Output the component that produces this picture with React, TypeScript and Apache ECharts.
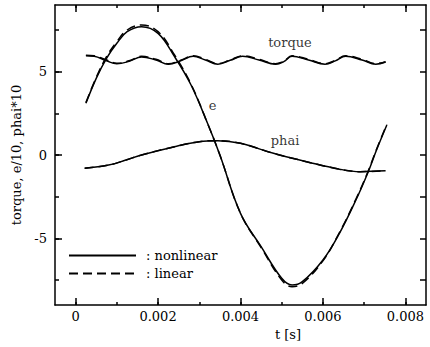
import React, { useEffect, useRef } from "react";
import * as echarts from "echarts";

// ---- data (t in seconds) ----
const eTime = [0.00025, 0.0005, 0.00075, 0.001, 0.00125, 0.0016, 0.002, 0.0024, 0.0028, 0.0032, 0.0035, 0.004, 0.0045, 0.005, 0.00525, 0.0055, 0.006, 0.0064, 0.0068, 0.0071, 0.0073, 0.00755];
const eNonlinear = [3.1, 4.6, 5.8, 6.7, 7.4, 7.7, 7.3, 5.9, 4.2, 1.9, 0.0, -3.5, -5.5, -7.4, -7.8, -7.6, -6.3, -4.7, -2.7, -1.0, 0.3, 1.8];
const eLinear = [3.15, 4.65, 5.9, 6.8, 7.5, 7.8, 7.4, 6.0, 4.25, 1.9, 0.0, -3.5, -5.55, -7.5, -7.9, -7.7, -6.35, -4.65, -2.65, -0.95, 0.35, 1.85];

const torqueTime = [0.00025, 0.00045, 0.00075, 0.001, 0.0013, 0.0016, 0.00195, 0.00225, 0.00255, 0.00285, 0.00315, 0.00345, 0.00375, 0.00405, 0.00445, 0.00485, 0.00505, 0.00525, 0.00565, 0.00605, 0.0063, 0.00655, 0.00695, 0.00728, 0.00752];
const torqueNonlinear = [5.95, 5.92, 5.65, 5.47, 5.62, 5.88, 5.7, 5.45, 5.65, 5.92, 5.7, 5.45, 5.68, 5.92, 5.7, 5.45, 5.6, 5.92, 5.7, 5.45, 5.65, 5.92, 5.7, 5.45, 5.58];
const torqueLinear = [5.98, 5.95, 5.7, 5.5, 5.65, 5.92, 5.74, 5.48, 5.68, 5.95, 5.74, 5.48, 5.7, 5.95, 5.74, 5.48, 5.63, 5.95, 5.74, 5.48, 5.68, 5.95, 5.74, 5.48, 5.6];

const phaiTime = [0.00022, 0.0008, 0.0012, 0.0016, 0.0024, 0.003, 0.00345, 0.004, 0.0048, 0.0056, 0.0064, 0.0069, 0.00752];
const phaiNonlinear = [-0.8, -0.6, -0.32, 0.0, 0.5, 0.8, 0.86, 0.7, 0.1, -0.4, -0.85, -1.0, -0.95];
const phaiLinear = [-0.8, -0.6, -0.32, 0.0, 0.5, 0.8, 0.86, 0.7, 0.1, -0.4, -0.85, -1.0, -0.95];

const curveNames = ["torque", "phai", "e"];
const curveLabelT = [0.0052, 0.00508, 0.00332];
const curveLabelV = [6.75, 0.9, 3.0];

const xMajorTicks = [0, 0.002, 0.004, 0.006, 0.008];
const xMinorTicks = [0.001, 0.003, 0.005, 0.007];
const yMajorTicks = [-5, 0, 5];
const yMinorTicks = [-7.5, -2.5, 2.5, 7.5];

const X_MIN = -0.0005;
const X_MAX = 0.0085;
const Y_MIN = -9;
const Y_MAX = 9;

const FONT = "DejaVu Serif";

// layout
const W = 430;
const H = 347;
const PL = 55;
const PR = 4;
const PT = 5;
const PB = 42;

function pairs(t: number[], v: number[]) {
  return t.map((x, i) => [x, v[i]]);
}

export default function App() {
  const ref = useRef<HTMLDivElement>(null);
  useEffect(() => {
    if (!ref.current) return;
    document.body.style.margin = "0";
    const chart = echarts.init(ref.current, undefined, { renderer: "svg" });

    const plotW = W - PL - PR;
    const plotH = H - PT - PB;
    const xPx = (t: number) => ((t - X_MIN) / (X_MAX - X_MIN)) * plotW;
    const yPx = (v: number) => ((Y_MAX - v) / (Y_MAX - Y_MIN)) * plotH;

    const allX = [...xMajorTicks, ...xMinorTicks].sort((a, b) => a - b);
    const allY = [...yMajorTicks, ...yMinorTicks].sort((a, b) => a - b);
    const xMin = allX[0];
    const xMax = allX[allX.length - 1];
    const xStepMajor = xMajorTicks[1] - xMajorTicks[0];
    const xStepAll = allX[1] - allX[0];
    const yMinAll = allY[0];
    const yMaxAll = allY[allY.length - 1];
    const yStepAll = allY[1] - allY[0];
    const yMinMaj = yMajorTicks[0];
    const yMaxMaj = yMajorTicks[yMajorTicks.length - 1];
    const yStepMaj = yMajorTicks[1] - yMajorTicks[0];

    const axisLine = () => ({ show: true, onZero: false, lineStyle: { color: "#000", width: 1.5 } });
    const tickAxis = (len: number) => ({
      axisLine: { show: false, onZero: false },
      axisTick: { show: true, inside: true, length: len, lineStyle: { color: "#000", width: 1.5 } },
      axisLabel: { show: false },
      splitLine: { show: false },
    });

    const solid = { color: "#000", width: 1.5, type: "solid" };
    const dashed = { color: "#000", width: 1.5, type: [9, 5] };

    const lineSeries = (name: string, data: number[][], ls: any) => ({
      type: "line",
      name,
      data,
      smooth: 0.4,
      symbol: "none",
      showSymbol: false,
      lineStyle: ls,
      itemStyle: { color: "#000" },
      silent: true,
    });

    chart.setOption({
      animation: false,
      backgroundColor: "#fff",
      grid: [
        { left: PL, right: PR, top: PT, bottom: PB },
        { left: PL + xPx(xMin), right: PR + (plotW - xPx(xMax)), top: PT, bottom: PB },
        { left: PL, right: PR, top: PT + yPx(yMaxAll), bottom: PB + (plotH - yPx(yMinAll)) },
        { left: PL, right: PR, top: PT + yPx(yMaxMaj), bottom: PB + (plotH - yPx(yMinMaj)) },
      ],
      xAxis: [
        {
          gridIndex: 0,
          type: "value",
          min: X_MIN,
          max: X_MAX,
          position: "bottom",
          splitLine: { show: false },
          axisLine: axisLine(),
          axisTick: { show: false },
          axisLabel: {
            show: true,
            customValues: xMajorTicks,
            margin: 5,
            color: "#000",
            fontFamily: FONT,
            fontSize: 13,
            formatter: (v: number) => (v === 0 ? "0" : v.toFixed(3)),
          },
        },
        {
          gridIndex: 0,
          type: "value",
          min: X_MIN,
          max: X_MAX,
          position: "top",
          splitLine: { show: false },
          axisLine: axisLine(),
          axisTick: { show: false },
          axisLabel: { show: false },
        },
        { gridIndex: 1, type: "value", min: xMin, max: xMax, interval: xStepAll, position: "bottom", ...tickAxis(3) },
        { gridIndex: 1, type: "value", min: xMin, max: xMax, interval: xStepMajor, position: "bottom", ...tickAxis(7) },
        { gridIndex: 1, type: "value", min: xMin, max: xMax, interval: xStepAll, position: "top", ...tickAxis(3) },
        { gridIndex: 1, type: "value", min: xMin, max: xMax, interval: xStepMajor, position: "top", ...tickAxis(7) },
        { gridIndex: 2, type: "value", min: 1, max: 2, show: false },
        { gridIndex: 3, type: "value", min: 1, max: 2, show: false },
      ],
      yAxis: [
        {
          gridIndex: 0,
          type: "value",
          min: Y_MIN,
          max: Y_MAX,
          position: "left",
          splitLine: { show: false },
          axisLine: axisLine(),
          axisTick: { show: false },
          axisLabel: { show: true, customValues: yMajorTicks, margin: 8, color: "#000", fontFamily: FONT, fontSize: 13 },
          name: "torque, e/10, phai*10",
          nameLocation: "middle",
          nameGap: 28,
          nameRotate: 90,
          nameTextStyle: { color: "#000", fontFamily: FONT, fontSize: 13 },
        },
        {
          gridIndex: 0,
          type: "value",
          min: Y_MIN,
          max: Y_MAX,
          position: "right",
          splitLine: { show: false },
          axisLine: axisLine(),
          axisTick: { show: false },
          axisLabel: { show: false },
        },
        { gridIndex: 1, type: "value", min: 1, max: 2, show: false },
        { gridIndex: 2, type: "value", min: yMinAll, max: yMaxAll, interval: yStepAll, position: "left", ...tickAxis(4) },
        { gridIndex: 2, type: "value", min: yMinAll, max: yMaxAll, interval: yStepAll, position: "right", ...tickAxis(6) },
        { gridIndex: 3, type: "value", min: yMinMaj, max: yMaxMaj, interval: yStepMaj, position: "left", ...tickAxis(7) },
      ],
      legend: {
        orient: "vertical",
        left: 63,
        top: 244,
        itemWidth: 67,
        itemHeight: 14,
        itemGap: 5,
        data: [{ name: "nonlinear" }, { name: "linear" }],
        formatter: ": {name}",
        itemStyle: { opacity: 0 },
        textStyle: { color: "#000", fontFamily: FONT, fontSize: 13, padding: [0, 0, 0, 5] },
        selectedMode: false,
      },
      graphic: [
        {
          type: "text",
          x: 288,
          y: 334,
          style: { text: "t [s]", fill: "#000", font: `13px "${FONT}"`, textAlign: "center", textVerticalAlign: "middle" },
        },
      ],
      series: [
        lineSeries("nonlinear", pairs(eTime, eNonlinear), solid),
        lineSeries("nonlinear", pairs(torqueTime, torqueNonlinear), solid),
        lineSeries("nonlinear", pairs(phaiTime, phaiNonlinear), solid),
        lineSeries("linear", pairs(eTime, eLinear), dashed),
        lineSeries("linear", pairs(torqueTime, torqueLinear), dashed),
        lineSeries("linear", pairs(phaiTime, phaiLinear), dashed),
        {
          type: "scatter",
          name: "labels",
          symbolSize: 0,
          silent: true,
          data: curveNames.map((n, i) => ({ name: n, value: [curveLabelT[i], curveLabelV[i]] })),
          label: {
            show: true,
            position: "inside",
            formatter: "{b}",
            color: "#000",
            fontFamily: FONT,
            fontSize: 13,
          },
        },
      ],
    });
    return () => chart.dispose();
  }, []);
  return <div ref={ref} style={{ position: "absolute", left: 0, top: 0, width: W, height: H }} />;
}
